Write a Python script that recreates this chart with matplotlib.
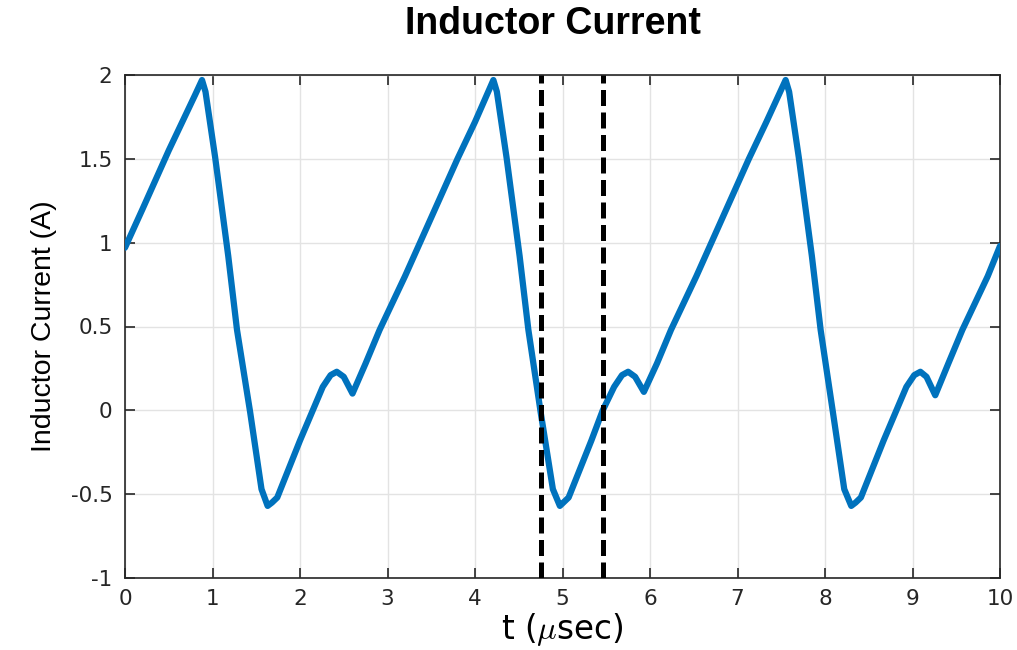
import matplotlib
matplotlib.use("Agg")
import matplotlib.pyplot as plt

# # # # # # # # # # # # # #   DATA   # # # # # # # # # # # # # #

# time in usec, current in A
t_us = [0.00, 0.20, 0.50, 0.80, 0.88, 0.92, 1.03, 1.18, 1.28, 1.43, 1.56, 1.63, 1.68, 1.74,
        2.00, 2.26, 2.35, 2.42, 2.50, 2.60, 2.75, 2.91, 3.20, 3.50, 3.80, 4.00, 4.21,
        4.25, 4.36, 4.51, 4.61, 4.75, 4.89, 4.97, 5.01, 5.07, 5.33, 5.46, 5.59, 5.68,
        5.75, 5.83, 5.93, 6.08, 6.24, 6.53, 6.83, 7.13, 7.33, 7.55,
        7.59, 7.70, 7.85, 7.95, 8.09, 8.22, 8.30, 8.35, 8.41, 8.67, 8.93, 9.02,
        9.09, 9.16, 9.26, 9.41, 9.57, 9.86, 10.00]
i_L = [0.97, 1.20, 1.55, 1.88, 1.97, 1.90, 1.51, 0.92, 0.48, -0.01, -0.47, -0.57, -0.55, -0.52,
       -0.18, 0.14, 0.21, 0.23, 0.20, 0.10, 0.28, 0.48, 0.80, 1.15, 1.50, 1.72, 1.97,
       1.90, 1.51, 0.92, 0.48, -0.01, -0.47, -0.57, -0.55, -0.52, -0.18, 0.00, 0.14, 0.21,
       0.23, 0.20, 0.11, 0.28, 0.48, 0.80, 1.15, 1.50, 1.72, 1.97,
       1.90, 1.51, 0.92, 0.48, -0.01, -0.47, -0.57, -0.55, -0.52, -0.18, 0.14, 0.21,
       0.23, 0.20, 0.09, 0.28, 0.48, 0.80, 0.98]

# dead-time markers
marker_t = [4.75, 5.46]

x_ticks = list(range(0, 11))
y_ticks = [-1, -0.5, 0, 0.5, 1, 1.5, 2]
y_tick_labels = ["-1", "-0.5", "0", "0.5", "1", "1.5", "2"]

# # # # # # # # # # # # # #   FONTS   # # # # # # # # # # # # # #

plt.rcParams["font.family"] = ["Liberation Sans", "DejaVu Sans"]
plt.rcParams["mathtext.fontset"] = "cm"

# # # # # # # # # # # # # #   GRAPH   # # # # # # # # # # # # # #

fig = plt.figure(figsize=(10.17, 6.5), dpi=100)
ax = fig.add_axes([125 / 1017, 72 / 650, 875 / 1017, 503 / 650])

ax.plot(t_us, i_L, color="#0072BD", lw=4.5, solid_joinstyle="round", solid_capstyle="round", zorder=3)
for xm in marker_t:
    ax.axvline(xm, color="black", lw=3.6, dashes=(3.2, 1.3), zorder=4)

ax.set_xlim(0, 10)
ax.set_ylim(-1, 2)
ax.set_xticks(x_ticks)
ax.set_yticks(y_ticks)
ax.set_yticklabels(y_tick_labels)
ax.tick_params(direction="in", length=7, width=1.2, colors="#262626", labelsize=15.5,
               top=True, right=True, pad=9)
ax.tick_params(axis="x", pad=8)
for lab in ax.get_xticklabels() + ax.get_yticklabels():
    lab.set_family("DejaVu Sans")
for s in ax.spines.values():
    s.set_color("#262626")
    s.set_linewidth(1.2)
ax.grid(True, color="#e3e3e3", lw=1)
ax.set_axisbelow(True)

ax.set_xlabel(r"t ($\mu$sec)", fontsize=23.5, family="DejaVu Sans", labelpad=1)
ax.set_ylabel("Inductor Current (A)", fontsize=20.5, labelpad=10)
fig.text(553 / 1017, 1 - 24 / 650, "Inductor Current", fontsize=27, fontweight="bold",
         ha="center", va="center")

fig.savefig("out.png", dpi=100)
